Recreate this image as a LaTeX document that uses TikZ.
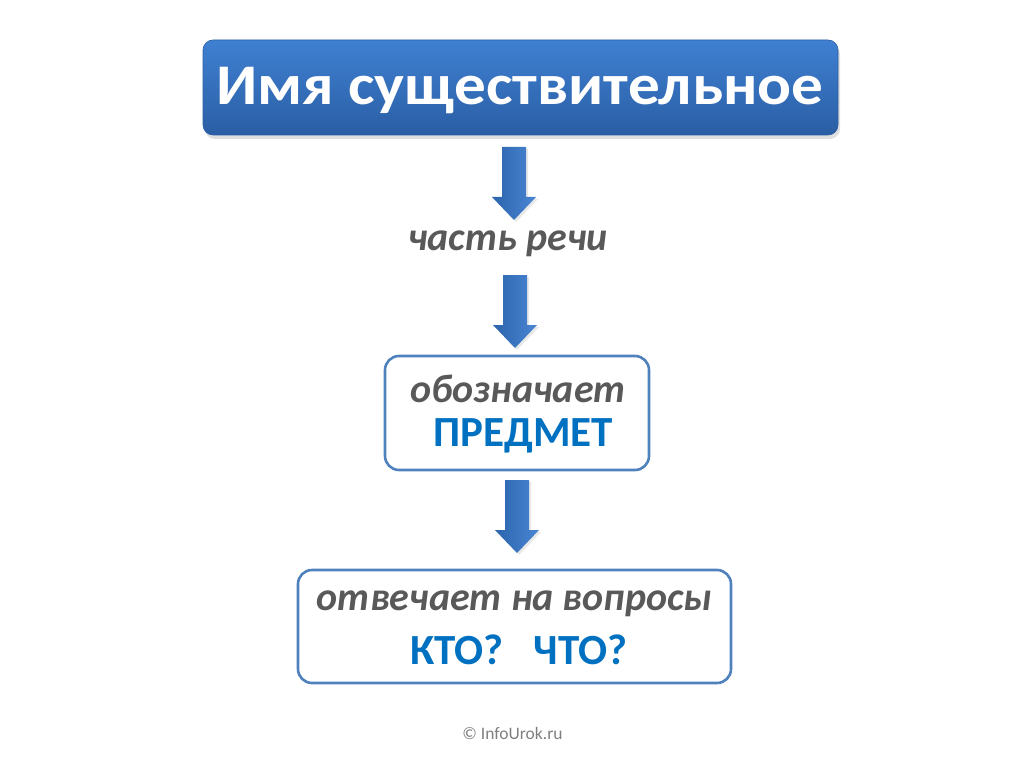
\documentclass[tikz,border=0pt]{standalone}
\usepackage{fontspec}
\setmainfont{Carlito}
\usetikzlibrary{shadows}
\definecolor{topA}{HTML}{3F80D2}
\definecolor{topB}{HTML}{2A5EA4}
\definecolor{arrA}{HTML}{4A86D4}
\definecolor{arrB}{HTML}{2C64AC}
\definecolor{edgeblue}{HTML}{4F81BD}
\definecolor{txtgray}{HTML}{595959}
\definecolor{txtblue}{HTML}{0070C0}
\definecolor{footgray}{HTML}{7F7F7F}
\tikzset{
  titlebox/.style={rounded corners=10pt, top color=topA, bottom color=topB, draw=topB, line width=0.6pt,
    drop shadow={opacity=0.25, shadow xshift=2pt, shadow yshift=-4pt}},
  framebox/.style={rounded corners=14pt, draw=edgeblue, line width=2.6pt, fill=white},
  blockarrow/.style={left color=arrB, right color=arrA, draw=none,
    drop shadow={opacity=0.18, shadow xshift=2pt, shadow yshift=-2pt}},
  graytext/.style={text=txtgray, font=\fontsize{40}{44}\selectfont\bfseries\itshape},
  bluetext/.style={text=txtblue, font=\fontsize{43}{48}\selectfont\bfseries},
}
\newcommand{\blockarr}[2]{%
  \path[blockarrow] (#1-12,#2) -- (#1+12,#2) -- (#1+12,#2+50) -- (#1+22,#2+50) -- (#1,#2+73) -- (#1-22,#2+50) -- (#1-12,#2+50) -- cycle;}
\begin{document}
\begin{tikzpicture}[x=1pt,y=-1pt]
\useasboundingbox (0,0) rectangle (1024,767);
\fill[white] (0,0) rectangle (1024,767);
% title
\path[titlebox] (203,40) rectangle (838,135);
\node (title) at (520,90) {\scalebox{1.1}[1]{\fontsize{57.5}{64}\selectfont\bfseries\color{white}Имя существительное}};
% arrow 1
\blockarr{514}{147}
\node[graytext] (part) at (508,244) {часть речи};
% arrow 2
\blockarr{515}{275}
% box 2
\path[framebox] (385,356) rectangle (649,470);
\node[graytext] (obozn) at (518,389) {обозначает};
\node[bluetext] (predmet) at (523,436) {ПРЕДМЕТ};
% arrow 3
\blockarr{517}{480}
% box 3
\path[framebox] (298,570) rectangle (731,683);
\node[graytext] (otv) at (514.5,604) {отвечает на вопросы};
\node[bluetext] (kto) at (519,650) {КТО?\hspace{30pt}ЧТО?};
% footer
\node[text=footgray, font=\fontsize{17.5}{20}\selectfont] (foot) at (512.5,733) {© InfoUrok.ru};
\end{tikzpicture}
\end{document}
